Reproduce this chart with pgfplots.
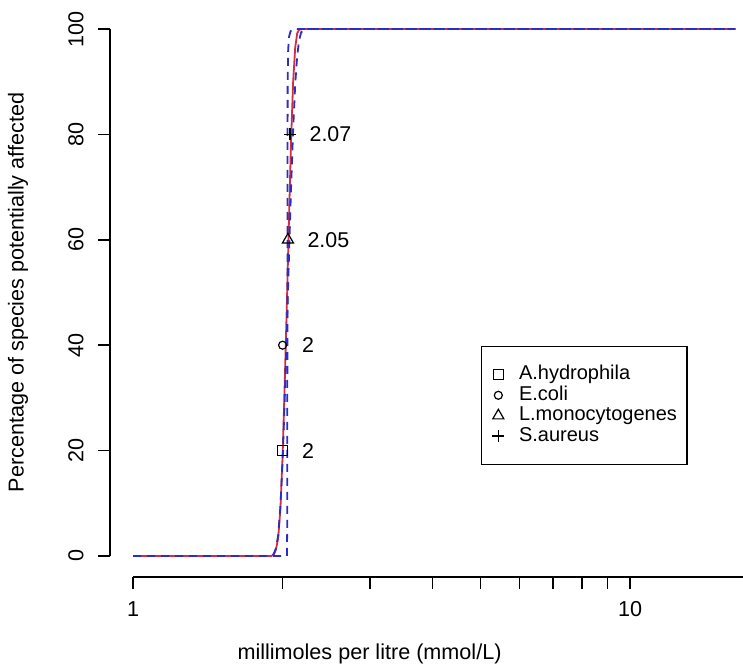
\documentclass[border=0pt]{standalone}
\usepackage{fontspec}
\setmainfont{Liberation Sans}
\usepackage{pgfplots}
\pgfplotsset{compat=1.18}
\definecolor{rred}{RGB}{210,45,65}
\definecolor{rblue}{RGB}{45,45,195}
\begin{document}
\begin{tikzpicture}
\useasboundingbox (0,0) rectangle (371.5pt,335pt);
\begin{axis}[
  at={(55pt,46.5pt)}, anchor=south west,
  scale only axis, width=316.5pt, height=284.5pt,
  xmode=log, xmin=0.8989, xmax=16.88, ymin=-4, ymax=104,
  axis x line*=bottom, axis y line*=left,
  axis line style={draw=none},
  clip=false,
  xtick={1,2,3,4,5,6,7,8,9,10},
  xticklabels={1,,,,,,,,,10},
  xminorticks=false,
  ytick={0,20,40,60,80,100},
  yticklabels={0,20,40,60,80,100},
  tick align=outside, major tick length=6pt,
  tick style={black, line width=0.7pt},
  tick label style={font=\fontsize{10.8}{13}\selectfont},
  label style={font=\fontsize{10.8}{13}\selectfont},
  xticklabel style={anchor=center, yshift=-10pt},
  yticklabel style={rotate=90, anchor=center, yshift=11pt},
  xlabel={millimoles per litre (mmol/L)},
  ylabel={Percentage of species potentially affected},
  xlabel style={at={(axis description cs:0.41,0)}, anchor=center, yshift=-38.5pt},
  ylabel style={at={(axis description cs:0,0.5)}, anchor=center, yshift=46pt},
  legend style={at={(rel axis cs:0.586,0.406)}, anchor=north west, draw=black, line width=0.7pt,
    inner xsep=4.5pt, inner ysep=9pt, row sep=0pt,
    nodes={inner sep=0.6pt, text height=7pt, text depth=2pt}},
  legend cell align=left,
  legend image code/.code={\path (0pt,0pt) (12.9pt,0pt);\draw[#1] plot coordinates {(3.5pt,0pt)};},
  nodes near coords style={anchor=west, inner sep=0pt, xshift=9.5pt, black, font=\fontsize{10.7}{13}\selectfont},
]
\draw[line width=0.7pt] (axis cs:1,-4) -- (axis cs:16.88,-4);
\draw[line width=0.7pt] (axis cs:0.8989,0) -- (axis cs:0.8989,100);

% fitted curve (red solid)
\addplot[rred, line width=0.9pt, forget plot] coordinates {
(1,0) (1.90,0) (1.92,0.3) (1.94,1.2) (1.96,3.5) (1.98,9) (2.00,19) (2.02,33)
(2.04,48) (2.06,64) (2.08,79) (2.10,90) (2.12,96.5) (2.14,99.2) (2.16,99.9) (2.19,100) (16.3,100)};
% confidence curve A (blue dashed)
\addplot[rblue, line width=0.9pt, dash pattern=on 4pt off 3pt, forget plot] coordinates {
(1,0) (1.90,0) (1.92,0.4) (1.94,1.5) (1.96,4) (1.98,9.5) (2.00,18) (2.02,30)
(2.04,43) (2.06,57) (2.08,70) (2.10,81) (2.12,89.5) (2.14,95) (2.16,98) (2.18,99.4)
(2.21,99.9) (2.25,100) (16.3,100)};
% confidence curve B (blue dashed, steep)
\addplot[rblue, line width=0.9pt, dash pattern=on 4pt off 3pt, forget plot] coordinates {
(1,0) (2.040,0) (2.043,5) (2.045,50) (2.047,90) (2.052,96) (2.06,98.5) (2.075,99.6)
(2.10,100) (16.3,100)};

\addplot[only marks, black, mark=square, mark size=2.5pt, mark options={line width=0.6pt},
  nodes near coords, point meta=explicit symbolic] coordinates {(2,20) [2]};
\addlegendentry{A.hydrophila}
\addplot[only marks, black, mark=o, mark size=2pt, mark options={line width=0.6pt},
  nodes near coords, point meta=explicit symbolic] coordinates {(2,40) [2]};
\addlegendentry{E.coli}
\addplot[only marks, black, mark=triangle, mark size=3.2pt, mark options={line width=0.6pt},
  nodes near coords, point meta=explicit symbolic] coordinates {(2.05,60) [2.05]};
\addlegendentry{L.monocytogenes}
\addplot[only marks, black, mark=+, mark size=3pt, mark options={line width=0.6pt},
  nodes near coords, point meta=explicit symbolic] coordinates {(2.07,80) [2.07]};
\addlegendentry{S.aureus}
\end{axis}
\end{tikzpicture}
\end{document}
